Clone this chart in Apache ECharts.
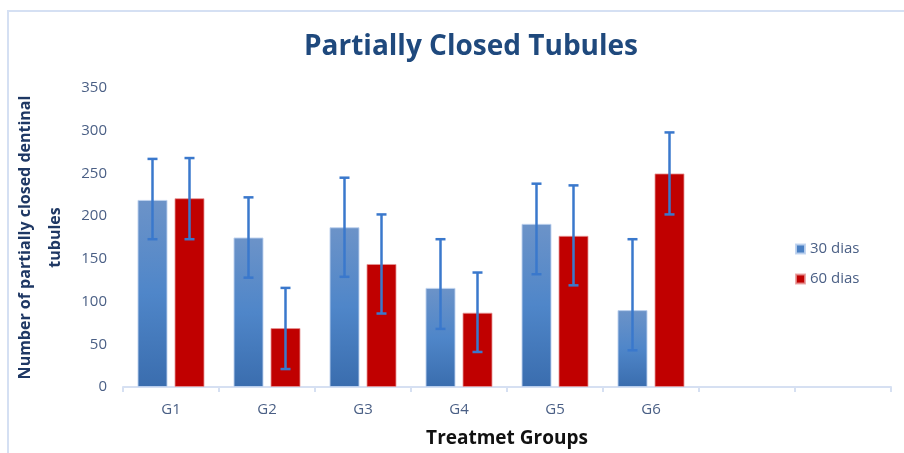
<!DOCTYPE html>
<html>
<head>
<meta charset="utf-8">
<script src="https://cdn.jsdelivr.net/npm/echarts@6/dist/echarts.min.js"></script>
<style>html,body{margin:0;padding:0;background:#fff}#c{width:904px;height:453px}</style>
</head>
<body>
<div id="c"></div>
<script>
const categories = ['G1', 'G2', 'G3', 'G4', 'G5', 'G6', '', ''];
const yTicks = [0, 50, 100, 150, 200, 250, 300, 350];
const dias30 = [219, 175, 187, 116, 191, 90];
const dias30Low = [173, 128, 129, 68, 132, 43];
const dias30High = [267, 222, 245, 173, 238, 173];
const dias60 = [221, 69, 144, 87, 177, 250];
const dias60Low = [173, 21, 86, 41, 119, 202];
const dias60High = [268, 116, 202, 134, 236, 298];

const BAR_W = 30, GAP = 7;
const labelColor = '#4a5f85';
const errColor = '#3a78cc';

function errSeries(low, high, sign) {
  return {
    type: 'custom', z: 10, silent: true,
    data: low.map((v, i) => [i, v, high[i]]),
    renderItem: function (params, api) {
      const off = sign * (BAR_W + GAP) / 2;
      const p1 = api.coord([api.value(0), api.value(1)]);
      const p2 = api.coord([api.value(0), api.value(2)]);
      const x = p1[0] + off, cap = 5;
      const st = { stroke: errColor, lineWidth: 2.5 };
      return { type: 'group', children: [
        { type: 'line', shape: { x1: x, y1: p1[1], x2: x, y2: p2[1] }, style: st },
        { type: 'line', shape: { x1: x - cap, y1: p1[1], x2: x + cap, y2: p1[1] }, style: st },
        { type: 'line', shape: { x1: x - cap, y1: p2[1], x2: x + cap, y2: p2[1] }, style: st }
      ]};
    }
  };
}

const chart = echarts.init(document.getElementById('c'));
chart.setOption({
  animation: false,
  backgroundColor: '#fff',
  title: {
    text: 'Partially Closed Tubules', left: 466, top: 28, textAlign: 'center',
    textStyle: { fontFamily: 'Open Sans', fontWeight: 'bold', fontSize: 28, color: '#1f497d' }
  },
  graphic: [{
    type: 'polyline', silent: true,
    shape: { points: [[8, 453], [8, 11], [904, 11]] },
    style: { stroke: '#d5e0f3', lineWidth: 2, fill: null }
  }],
  legend: {
    orient: 'vertical', left: 790, top: 235, itemWidth: 9, itemHeight: 9, itemGap: 12,
    icon: 'rect',
    textStyle: { fontFamily: 'Open Sans', fontSize: 15, color: '#4a5f85', lineHeight: 18 },
    data: [{ name: '30 dias', itemStyle: { color: '#4a80c4' } }, { name: '60 dias', itemStyle: { color: '#c00000' } }]
  },
  grid: { left: 123, right: 13, top: 88, bottom: 66, outerBoundsMode: 'none', containLabel: false },
  xAxis: {
    type: 'category', data: categories,
    name: 'Treatmet Groups', nameLocation: 'middle', nameGap: 42,
    nameTextStyle: { fontFamily: 'Open Sans', fontWeight: 'bold', fontSize: 19, color: '#111' },
    axisLine: { lineStyle: { color: '#d6e0f2', width: 2 } },
    axisTick: { show: true, length: 5, lineStyle: { color: '#d6e0f2', width: 2 } },
    axisLabel: { fontFamily: 'Open Sans', fontSize: 15, color: labelColor, margin: 15 }
  },
  yAxis: {
    type: 'value', min: yTicks[0], max: yTicks[yTicks.length - 1], interval: 50,
    name: 'Number of partially closed dentinal\ntubules', nameLocation: 'middle', nameGap: 51,
    nameTextStyle: { fontFamily: 'Open Sans', fontWeight: 'bold', fontSize: 16, color: '#1f3864', lineHeight: 30 },
    axisLine: { show: false }, axisTick: { show: false }, splitLine: { show: false },
    axisLabel: { fontFamily: 'Open Sans', fontSize: 15, color: labelColor, margin: 16 }
  },
  series: [
    {
      name: '30 dias', type: 'bar', data: dias30, barWidth: BAR_W, barGap: (GAP / BAR_W * 100) + '%',
      itemStyle: {
        color: new echarts.graphic.LinearGradient(0, 0, 0, 1, [
          { offset: 0, color: '#6c93c8' }, { offset: 0.5, color: '#4f86c9' }, { offset: 1, color: '#3a6dae' }
        ]),
        borderColor: 'rgba(190,210,238,0.9)', borderWidth: 1
      }
    },
    {
      name: '60 dias', type: 'bar', data: dias60, barWidth: BAR_W,
      itemStyle: { color: '#c00000', borderColor: 'rgba(230,150,150,0.8)', borderWidth: 1 }
    },
    errSeries(dias30Low, dias30High, -1),
    errSeries(dias60Low, dias60High, 1)
  ]
});
</script>
</body>
</html>
